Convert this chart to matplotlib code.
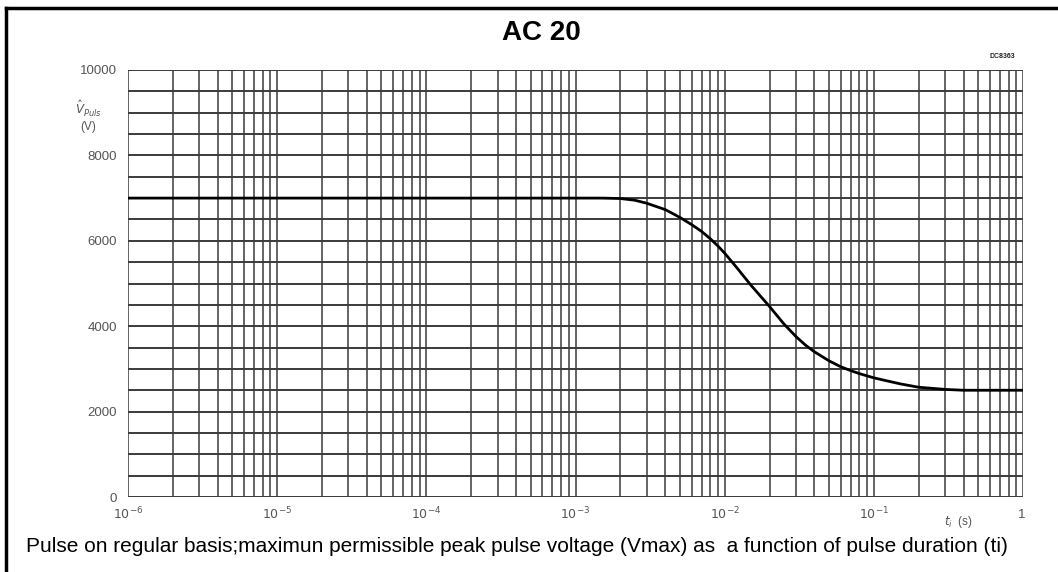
import matplotlib
matplotlib.use("Agg")
import matplotlib.pyplot as plt
from matplotlib.lines import Line2D
import numpy as np

# Data
t_values = [1e-6, 1e-5, 1e-4, 1e-3, 1.5e-3, 2e-3, 2.5e-3, 3e-3, 4e-3, 5e-3, 6e-3, 7e-3,
            8e-3, 9e-3, 1e-2, 1.2e-2, 1.5e-2, 2e-2, 2.5e-2, 3e-2, 3.5e-2, 4e-2, 5e-2,
            6e-2, 7e-2, 8e-2, 1e-1, 1.5e-1, 2e-1, 3e-1, 4e-1, 1.0]
v_values = [7000, 7000, 7000, 7000, 7000, 6990, 6950, 6880, 6730, 6550, 6380, 6220,
            6050, 5880, 5710, 5380, 4960, 4460, 4050, 3760, 3550, 3400, 3190,
            3050, 2960, 2890, 2790, 2650, 2570, 2520, 2500, 2500]

x_tick_vals = [1e-6, 1e-5, 1e-4, 1e-3, 1e-2, 1e-1]
x_tick_labels = [r'$10^{-6}$', r'$10^{-5}$', r'$10^{-4}$', r'$10^{-3}$', r'$10^{-2}$', r'$10^{-1}$']
y_tick_vals = [0, 2000, 4000, 6000, 8000, 10000]

title_text = "AC 20"
caption_text = "Pulse on regular basis;maximun permissible peak pulse voltage (Vmax) as  a function of pulse duration (ti)"

plt.rcParams['font.family'] = ['Liberation Sans', 'DejaVu Sans']

W, H = 1058, 572
fig = plt.figure(figsize=(W / 100, H / 100), dpi=100)
left, right, top, bottom = 128, 1023, 70, 497
ax = fig.add_axes([left / W, 1 - bottom / H, (right - left) / W, (bottom - top) / H])

ax.set_xscale('log')
ax.set_xlim(1e-6, 1)
ax.set_ylim(0, 10000)

grid_color = '#3a3a3a'
# horizontal grid every 500
for yv in np.arange(0, 10001, 500):
    ax.axhline(yv, color=grid_color, lw=1.4, zorder=1)
# vertical grid at 1..9 per decade
for d in range(-6, 0):
    for m in range(1, 10):
        ax.axvline(m * 10.0 ** d, color=grid_color, lw=1.1, zorder=1)
ax.axvline(1.0, color=grid_color, lw=1.1, zorder=1)

ax.plot(t_values, v_values, color='black', lw=2.0, zorder=3, solid_joinstyle='round')

for s in ax.spines.values():
    s.set_visible(False)
ax.tick_params(axis='both', which='both', length=0)
ax.set_xticks(x_tick_vals)
ax.set_xticklabels(x_tick_labels, fontsize=9, color='#555555')
ax.xaxis.set_minor_locator(matplotlib.ticker.NullLocator())
ax.set_yticks(y_tick_vals)
ax.set_yticklabels([str(v) for v in y_tick_vals], fontsize=9.5, color='#555555')
ax.tick_params(axis='x', pad=6)
ax.tick_params(axis='y', pad=8)

def fx(px):
    return px / W

def fy(py):
    return 1 - py / H

fig.text(fx(1022), fy(515), "1", fontsize=9.5, color='#555555', ha='center', va='center')
fig.text(fx(958), fy(522), r'$t_i$  (s)', fontsize=8.5, color='#555555', ha='center', va='center')
fig.text(fx(88), fy(109), r'$\hat{V}_{Puls}$', fontsize=8.5, color='#555555', ha='center', va='center')
fig.text(fx(88), fy(127), "(V)", fontsize=8.5, color='#555555', ha='center', va='center')
fig.text(fx(1002), fy(57), "DC8363", fontsize=5, color='#222222', ha='center', va='center',
         fontweight='bold')

fig.text(fx(541), fy(33), title_text, fontsize=20, fontweight='bold', ha='center', va='center')
fig.text(fx(517), fy(546), caption_text, fontsize=15, ha='center', va='center')

# outer frame (top and left edges)
fig.add_artist(Line2D([fx(6), fx(1058)], [fy(8), fy(8)], color='black', lw=2.5))
fig.add_artist(Line2D([fx(6), fx(6)], [fy(8), fy(572)], color='black', lw=2.5))

fig.savefig("out.png", dpi=100)
